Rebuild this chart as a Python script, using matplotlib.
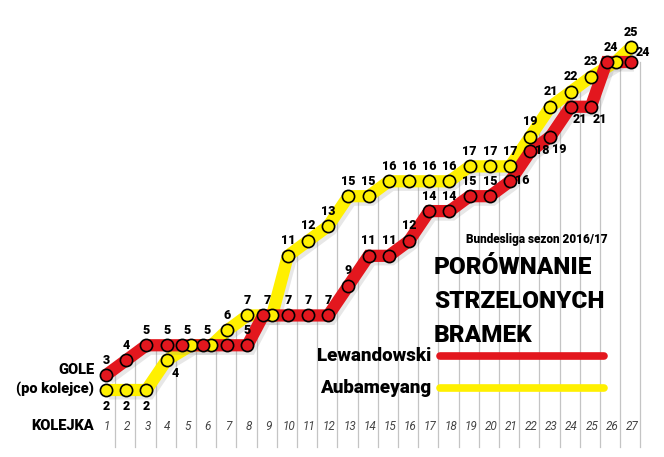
import numpy as np
import matplotlib.pyplot as plt
import matplotlib.patheffects as pe
from matplotlib.lines import Line2D

# dane: gole po kolejkach (Bundesliga 2016/17)
kolejki = list(range(1, 28))
lewandowski = [3, 4, 5, 5, 5, 5, 5, 5, 7, 7, 7, 7, 9, 11, 11, 12, 14, 14,
               15, 15, 16, 18, 19, 21, 21, 24, 24]
aubameyang = [2, 2, 2, 4, 5, 5, 6, 7, 7, 11, 12, 13, 15, 15, 16, 16, 16, 16,
              17, 17, 17, 19, 21, 22, 23, 24, 25]

# gdzie stoi etykieta: a=nad, b=pod, r=z prawej, br=pod-prawo, ar=nad-prawo, None=brak
red_lab = ['a', 'a', 'a', 'a', None, None, None, 'a', None, 'a', 'a', 'a', 'a', 'a',
           'a', 'a', 'a', 'a', 'a', 'a', 'r', 'r', 'br', 'br', 'br', None, 'ar']
yel_lab = ['b', 'b', 'b', 'br'] + ['a'] * 23

RED = '#e3171e'
YEL = '#fff000'
offs = {'a': (0, 15), 'b': (0, -17), 'r': (12, 1), 'br': (9, -13), 'ar': (12, 10)}

FONT = 'Roboto'
cond = dict(family=FONT, weight='black')

fig = plt.figure(figsize=(6.64, 4.57), dpi=100)
ax = fig.add_axes([0, 0, 1, 1])
ax.set_xlim(-4.248, 28.62)
ax.set_ylim(-2.495, 28.16)
ax.axis('off')

x = np.array(kolejki, dtype=float)
r = np.array(lewandowski, dtype=float)
y = np.array(aubameyang, dtype=float)
same = r == y
xr = x - 0.22 * same
xy = x + 0.22 * same

# pionowe linie pomocnicze
for c in kolejki:
    xc = c + 0.45
    top = max(np.interp(xc, x, r), np.interp(xc, x, y))
    if c == kolejki[-1]:
        top = max(r[-1], y[-1]) - 1
    ax.plot([xc, xc], [-1.82, top], color='#c4c4c4', lw=0.9, zorder=1)

shadow = [pe.SimpleLineShadow(offset=(2, -2.5), shadow_color='#888888', alpha=0.2),
          pe.Normal()]
ax.plot(xr, r, color=RED, lw=8.8, solid_joinstyle='miter', solid_capstyle='butt',
        zorder=3, path_effects=shadow)
ax.plot(xy, y, color=YEL, lw=8.8, solid_joinstyle='miter', solid_capstyle='butt',
        zorder=2, path_effects=shadow)
ax.plot(xr, r, 'o', ms=8.8, mfc=RED, mec='black', mew=1.2, zorder=5)
ax.plot(xy, y, 'o', ms=8.8, mfc=YEL, mec='black', mew=1.2, zorder=4)

for vals, labs in ((lewandowski, red_lab), (aubameyang, yel_lab)):
    for c, v, lab in zip(kolejki, vals, labs):
        if lab is None:
            continue
        dx, dy = offs[lab]
        ax.annotate(str(v), (c, v), xytext=(dx * 0.72, dy * 0.72),
                    textcoords='offset points', ha='center', va='center',
                    fontsize=9, zorder=6, **cond)

# numery kolejek
for c in kolejki:
    ax.text(c + 0.05, -0.42, str(c), ha='center', va='center', fontsize=8.5,
            style='italic', color='#444444', family=FONT)

def px(xp, yp):
    return xp / 664, 1 - yp / 457

fig.text(*px(94, 426), 'KOLEJKA', ha='right', va='center', fontsize=10.5, **cond)
fig.text(*px(94, 370), 'GOLE', ha='right', va='center', fontsize=10.5, **cond)
fig.text(*px(94, 389), '(po kolejce)', ha='right', va='center', fontsize=10.5, **cond)

fig.text(*px(466, 240), 'Bundesliga sezon 2016/17', ha='left', va='center',
         fontsize=8.5, **cond)
for i, line in enumerate(['PORÓWNANIE', 'STRZELONYCH', 'BRAMEK']):
    fig.text(*px(434, 268 + 34 * i), line, ha='left', va='center', fontsize=17.5, **cond)

fig.text(*px(431, 356), 'Lewandowski', ha='right', va='center', fontsize=13.5, **cond)
fig.text(*px(431, 388), 'Aubameyang', ha='right', va='center', fontsize=13.5, **cond)
for yp, col in ((356, RED), (388, YEL)):
    x0, y0 = px(440, yp)
    x1, _ = px(604, yp)
    fig.add_artist(Line2D([x0, x1], [y0, y0], color=col, lw=5.5,
                          solid_capstyle='round', transform=fig.transFigure))

fig.savefig('out.png', dpi=100)
